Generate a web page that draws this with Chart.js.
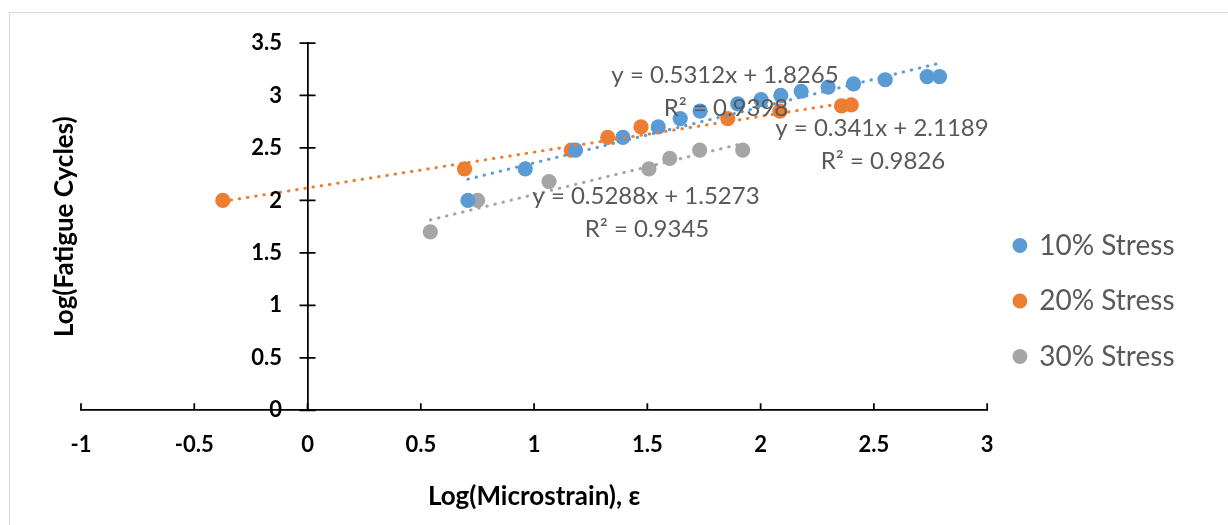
<!DOCTYPE html>
<html>
<head>
<meta charset="utf-8">
<script src="https://cdn.jsdelivr.net/npm/chart.js@4.4.1/dist/chart.umd.min.js"></script>
<style>
  html, body { margin: 0; padding: 0; background: #fff; overflow: hidden; }
  #wrap { position: relative; width: 1228px; height: 525px; overflow: hidden; }
  #frame { position: absolute; left: 9px; top: 12px; width: 1300px; height: 600px;
           border: 1.5px solid #d9d9d9; box-sizing: border-box; }
  #c { position: absolute; left: 0; top: 0; }
</style>
</head>
<body>
<div id="wrap">
  <div id="frame"></div>
  <canvas id="c" width="1228" height="525"></canvas>
</div>
<script>
// Series names and colours
const seriesNames = ['10% Stress', '20% Stress', '30% Stress'];
const seriesColors = ['#5B9BD5', '#ED7D31', '#A5A5A5'];

// Log(microstrain) vs log(fatigue cycles), per stress level
const strain10 = [0.708, 0.961, 1.183, 1.392, 1.548, 1.645, 1.733, 1.899, 2.002, 2.089, 2.179, 2.298, 2.41, 2.55, 2.735, 2.79];
const cycles10 = [2.00, 2.30, 2.48, 2.60, 2.70, 2.78, 2.85, 2.92, 2.96, 3.00, 3.04, 3.08, 3.11, 3.15, 3.18, 3.18];

const strain20 = [-0.374, 0.693, 1.164, 1.325, 1.472, 1.855, 2.085, 2.357, 2.40];
const cycles20 = [2.00, 2.30, 2.48, 2.60, 2.70, 2.78, 2.85, 2.90, 2.91];

const strain30 = [0.542, 0.751, 1.066, 1.507, 1.599, 1.731, 1.921];
const cycles30 = [1.70, 2.00, 2.18, 2.30, 2.40, 2.48, 2.48];

// Linear trendlines (y = m x + b) and their R² values
const trendSlopes = [0.5312, 0.341, 0.5288];
const trendIntercepts = [1.8265, 2.1189, 1.5273];
const trendR2 = [0.9398, 0.9826, 0.9345];

// Axis ranges and titles
const xRange = [-1, 3];
const yRange = [0, 3.5];
const tickStep = 0.5;
const xTitle = 'Log(Microstrain), ε';
const yTitle = 'Log(Fatigue Cycles)';

const FONT = 'Lato, "Open Sans", sans-serif';
const TEXT_GREY = '#595959';
const TICK_FONT = { family: FONT, size: 22, weight: 'bold' };

const strains = [strain10, strain20, strain30];
const cycles = [cycles10, cycles20, cycles30];

const pointSets = strains.map((xs, s) => xs.map((x, i) => ({ x: x, y: cycles[s][i] })));

// Trendline spans the x-range of its own series
const trendSets = strains.map((xs, s) => {
  const lo = Math.min(...xs), hi = Math.max(...xs);
  return [lo, hi].map(x => ({ x: x, y: trendSlopes[s] * x + trendIntercepts[s] }));
});

const datasets = [];
pointSets.forEach((pts, s) => {
  datasets.push({
    type: 'scatter',
    label: seriesNames[s],
    data: pts,
    backgroundColor: seriesColors[s],
    borderColor: seriesColors[s],
    borderWidth: 0,
    pointRadius: 7.6,
    pointHoverRadius: 7.6,
    order: 2
  });
});
trendSets.forEach((pts, s) => {
  datasets.push({
    type: 'line',
    label: 'trend ' + seriesNames[s],
    data: pts,
    borderColor: seriesColors[s],
    borderWidth: 3,
    borderDash: [0.5, 7.8],
    borderCapStyle: 'round',
    pointRadius: 0,
    fill: false,
    order: 1
  });
});

const fmtTick = v => String(Number(v.toFixed(2)));

// Trendline equation labels (canvas pixel centres)
const trendLabelPos = [
  [[725, 75], [726, 108]],
  [[882, 128], [883, 161]],
  [[646, 196], [647, 229]]
];

const trendLabelPlugin = {
  id: 'trendLabels',
  afterDatasetsDraw(chart) {
    const ctx = chart.ctx;
    ctx.save();
    ctx.font = '24px ' + FONT;
    ctx.fillStyle = TEXT_GREY;
    ctx.textAlign = 'center';
    ctx.textBaseline = 'middle';
    trendSlopes.forEach((m, s) => {
      const eq = 'y = ' + m + 'x + ' + trendIntercepts[s];
      const r2 = 'R² = ' + trendR2[s];
      ctx.fillText(eq, trendLabelPos[s][0][0], trendLabelPos[s][0][1]);
      ctx.fillText(r2, trendLabelPos[s][1][0], trendLabelPos[s][1][1]);
    });
    ctx.restore();
  }
};

// Cross tick marks and labels on the y axis (which sits at x = 0),
// inward tick marks on the x axis
const axisMarksPlugin = {
  id: 'axisMarks',
  afterDraw(chart) {
    const ctx = chart.ctx;
    const xs = chart.scales.x, ys = chart.scales.y;
    const x0 = xs.getPixelForValue(0);
    const y0 = ys.getPixelForValue(0);
    ctx.save();
    ctx.strokeStyle = '#000';
    ctx.lineWidth = 1.75;
    ctx.beginPath();
    ys.ticks.forEach(t => {
      const py = ys.getPixelForValue(t.value);
      ctx.moveTo(x0 - 8, py);
      ctx.lineTo(x0 + 8, py);
    });
    xs.ticks.forEach(t => {
      const px = xs.getPixelForValue(t.value);
      ctx.moveTo(px, y0);
      ctx.lineTo(px, y0 - 7);
    });
    ctx.stroke();
    ctx.fillStyle = '#000';
    ctx.font = 'bold ' + TICK_FONT.size + 'px ' + FONT;
    ctx.textAlign = 'right';
    ctx.textBaseline = 'middle';
    ys.ticks.forEach(t => {
      ctx.fillText(fmtTick(t.value), x0 - 25.5, ys.getPixelForValue(t.value));
    });
    ctx.restore();
  }
};

new Chart(document.getElementById('c'), {
  data: { datasets: datasets },
  options: {
    responsive: false,
    animation: false,
    devicePixelRatio: 1,
    layout: { padding: { left: 0, top: 43, right: 43.5, bottom: 10 } },
    plugins: {
      tooltip: { enabled: false },
      legend: {
        display: true,
        position: 'right',
        align: 'center',
        title: { display: true, text: '', font: { size: 10, lineHeight: 1 }, padding: { top: 0, bottom: 34 } },
        labels: {
          usePointStyle: true,
          pointStyle: 'circle',
          boxWidth: 10.5,
          boxHeight: 10.5,
          padding: 27.5,
          color: TEXT_GREY,
          font: { family: FONT, size: 28, lineHeight: 26.5 / 28 },
          filter: item => item.datasetIndex < seriesNames.length
        }
      }
    },
    scales: {
      x: {
        type: 'linear',
        position: 'bottom',
        min: xRange[0],
        max: xRange[1],
        ticks: { stepSize: tickStep, color: '#000', padding: 21, font: TICK_FONT,
                 callback: v => fmtTick(v) },
        grid: { display: false, drawTicks: false },
        border: { display: true, color: '#000', width: 1.75 },
        title: { display: true, text: xTitle, color: '#000',
                 font: { family: FONT, size: 26, weight: 'bold' },
                 padding: { top: 2.7, bottom: 2.4 } }
      },
      y: {
        type: 'linear',
        position: { x: 0 },
        min: yRange[0],
        max: yRange[1],
        ticks: { stepSize: tickStep, display: false },
        grid: { display: false, drawTicks: false },
        border: { display: true, color: '#000', width: 1.75 }
      },
      yt: {
        type: 'linear',
        axis: 'y',
        position: 'left',
        min: yRange[0],
        max: yRange[1],
        ticks: { display: false },
        grid: { display: false, drawTicks: false },
        border: { display: false },
        title: { display: true, text: yTitle, color: '#000',
                 font: { family: FONT, size: 26, weight: 'bold' },
                 padding: { top: 49.4, bottom: 0.4 } }
      }
    }
  },
  plugins: [trendLabelPlugin, axisMarksPlugin]
});
</script>
</body>
</html>
